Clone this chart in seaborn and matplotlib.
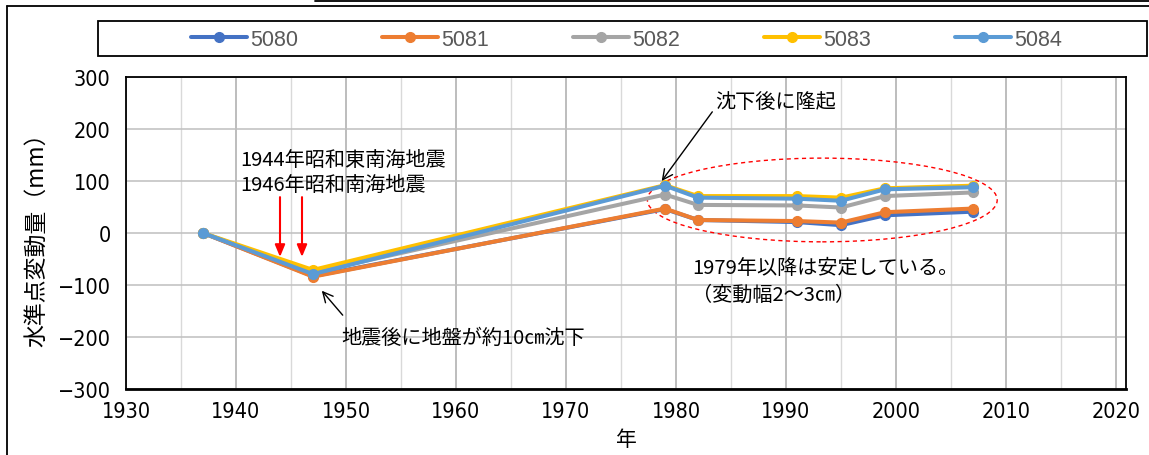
import matplotlib
matplotlib.use("Agg")
import matplotlib.pyplot as plt
from matplotlib import font_manager
from matplotlib.patches import Ellipse, Rectangle
from matplotlib.lines import Line2D
import numpy as np
import pandas as pd
import seaborn as sns

# Survey years and levelling changes (mm) at each benchmark
years = [1937, 1947, 1979, 1982, 1991, 1995, 1999, 2007]
bm_5080 = [0, -83, 46, 25, 21, 15, 34, 41]
bm_5081 = [0, -84, 47, 25, 23, 20, 40, 47]
bm_5082 = [0, -76, 74, 54, 53, 49, 71, 78]
bm_5083 = [0, -71, 92, 71, 71, 68, 86, 91]
bm_5084 = [0, -79, 91, 68, 66, 62, 84, 88]
series_names = ["5080", "5081", "5082", "5083", "5084"]
series_colors = ["#4472C4", "#ED7D31", "#A5A5A5", "#FFC000", "#5B9BD5"]

x_ticks = list(range(1930, 2021, 10))
y_ticks = list(range(-300, 301, 100))

sns.set_theme(style="white")
JP = ["Noto Sans CJK JP", "DejaVu Sans"]
plt.rcParams["font.family"] = JP

# Narrow face for the axis numbers when one is installed
fonts = font_manager.fontManager.ttflist
names = {f.name for f in fonts}
num_kw = {"family": "Liberation Sans", "size": 15.5}
if "Liberation Sans Narrow" in names:
    num_kw = {"family": "Liberation Sans Narrow", "size": 17}
elif any(f.name == "DejaVu Sans" and f.stretch == "condensed" for f in fonts):
    num_kw = {"family": "DejaVu Sans", "stretch": "condensed", "size": 15.5}

df = pd.DataFrame({
    "年": years * 5,
    "値": bm_5080 + bm_5081 + bm_5082 + bm_5083 + bm_5084,
    "系列": sum([[n] * len(years) for n in series_names], []),
})

fig = plt.figure(figsize=(11.49, 4.56), dpi=100)
ax = fig.add_axes([126 / 1149, 66 / 456, 1000 / 1149, 312 / 456])

sns.lineplot(data=df, x="年", y="値", hue="系列", hue_order=series_names,
             palette=dict(zip(series_names, series_colors)), marker="o",
             markersize=7, linewidth=2.9, ax=ax, legend=True)
for line in ax.lines:
    line.set_markeredgecolor(line.get_color())
    line.set_markeredgewidth(1)
    line.set_solid_joinstyle("round")

handles, labels = ax.get_legend_handles_labels()
ax.get_legend().remove()

ax.set_xlim(1930, 1930 + 1000 / 11)
ax.set_ylim(-300, 300)
ax.set_xticks(x_ticks)
ax.set_xticks(list(range(1935, 2021, 10)), minor=True)
ax.set_yticks(y_ticks)
ax.grid(which="major", axis="y", color="#bfbfbf", lw=1.1)
ax.grid(which="major", axis="x", color="#ababab", lw=1.1)
ax.grid(which="minor", axis="x", color="#d9d9d9", lw=1.0)
ax.set_axisbelow(True)
ax.tick_params(which="both", length=0, colors="black")
ax.tick_params(axis="y", pad=11)
ax.tick_params(axis="x", pad=9)
for lab in ax.get_xticklabels() + ax.get_yticklabels():
    lab.set_fontfamily(num_kw["family"])
    lab.set_fontsize(num_kw["size"])
    if "stretch" in num_kw:
        lab.set_fontstretch(num_kw["stretch"])
for s in ["top", "right", "left"]:
    ax.spines[s].set_color("black")
    ax.spines[s].set_linewidth(1.3)
ax.spines["bottom"].set_color("black")
ax.spines["bottom"].set_linewidth(2.0)

ax.set_xlabel("年", fontsize=15, color="black")
ax.xaxis.set_label_coords(0.5, -(429 - 390) / 312)
ax.set_ylabel("水準点変動量（mm）", fontsize=16.5, color="black")
ax.yaxis.set_label_coords(-(126 - 48) / 1000, 0.5)

# Earthquake labels and arrows
txt = dict(fontsize=14.5, color="black", ha="left", va="center", family=JP)
ax.text(1940.4, 142, "1944年昭和東南海地震", **txt)
ax.text(1940.4, 94, "1946年昭和南海地震", **txt)
for yr in (1944, 1946):
    ax.annotate("", xy=(yr, -46), xytext=(yr, 69),
                arrowprops=dict(arrowstyle="-|>,head_length=0.6,head_width=0.25",
                                color="red", lw=1.5, shrinkA=0, shrinkB=0))

ax.text(1949.6, -200, "地震後に地盤が約10㎝沈下", **txt)
ax.annotate("", xy=(1947.8, -111), xytext=(1949.7, -158),
            arrowprops=dict(arrowstyle="->,head_length=0.6,head_width=0.3",
                            color="black", lw=1.0, shrinkA=0, shrinkB=0))

ax.text(1983.6, 252, "沈下後に隆起", **txt)
ax.annotate("", xy=(1978.7, 100), xytext=(1983.3, 233),
            arrowprops=dict(arrowstyle="->,head_length=0.6,head_width=0.3",
                            color="black", lw=1.0, shrinkA=0, shrinkB=0))

ax.text(1981.5, -67, "1979年以降は安定している。", **txt)
ax.text(1981.5, -117, "（変動幅2～3㎝）", **txt)
ax.add_patch(Ellipse((1993.3, 63.5), 31.8, 161, fill=False, edgecolor="red",
                     lw=1.0, ls=(0, (3, 2.5))))

# Legend row with a plain rectangular frame
leg = fig.legend(handles, labels, loc="center", ncol=5,
                 bbox_to_anchor=(626.5 / 1149, 1 - 40 / 456), frameon=False,
                 handlelength=2.6, handletextpad=0.15, columnspacing=3.9,
                 prop={"family": "Liberation Sans", "size": 15.5})
for t in leg.get_texts():
    t.set_color("#595959")
for h in leg.legend_handles:
    h.set_markersize(7)
fig.add_artist(Rectangle((98 / 1149, 1 - 57 / 456), 1049 / 1149, 35 / 456,
                         transform=fig.transFigure, fill=False,
                         edgecolor="black", lw=1.3))

# Outer frame lines
fig.add_artist(Line2D([7 / 1149, 7 / 1149], [0, 1 - 7 / 456],
                      transform=fig.transFigure, color="black", lw=1.3))
fig.add_artist(Line2D([7 / 1149, 1], [1 - 7 / 456, 1 - 7 / 456],
                      transform=fig.transFigure, color="black", lw=1.3))
fig.add_artist(Line2D([315 / 1149, 1], [1 - 1.5 / 456, 1 - 1.5 / 456],
                      transform=fig.transFigure, color="black", lw=1.3))

fig.savefig("out.png", dpi=100, facecolor="white")
